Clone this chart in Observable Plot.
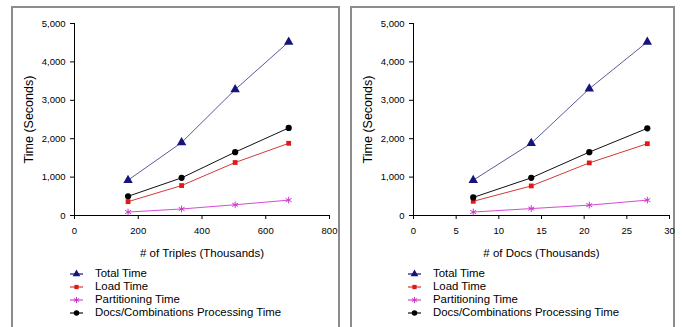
<!DOCTYPE html>
<html>
<head>
<meta charset="utf-8">
<script src="https://cdn.jsdelivr.net/npm/d3@7"></script>
<script src="https://cdn.jsdelivr.net/npm/@observablehq/plot@0.6"></script>
<style>
  html, body { margin: 0; padding: 0; background: #fff; }
  body { width: 683px; height: 327px; overflow: hidden; position: relative; font-family: "Liberation Sans", Arial, sans-serif; }
  .panel { position: absolute; top: 6px; height: 330px; border: 2px solid #8c8c8c; border-bottom: none; background: #fff; }
  .panel svg { position: absolute; left: 0; top: 0; overflow: visible; }
  .legend { position: absolute; font-size: 11.4px; color: #000; line-height: 13px; }
  .legend .row { display: flex; align-items: center; height: 13px; white-space: nowrap; }
  .legend svg { position: static; margin-right: 12px; }
</style>
</head>
<body>
<div id="p1" class="panel" style="left:11px;width:325px;"></div>
<div id="p2" class="panel" style="left:350px;width:321px;"></div>
<script>
// Series names
const seriesNames = ["Total Time", "Load Time", "Partitioning Time", "Docs/Combinations Processing Time"];

// Left chart: x = # of Triples (Thousands)
const triplesX = [168, 336, 504, 672];
const triplesTotal = [920, 1900, 3280, 4520];
const triplesLoad = [360, 780, 1380, 1880];
const triplesPartition = [90, 170, 280, 400];
const triplesDocs = [500, 980, 1650, 2280];

// Right chart: x = # of Docs (Thousands)
const docsX = [7.0, 13.8, 20.6, 27.4];
const docsTotal = [920, 1880, 3300, 4520];
const docsLoad = [370, 770, 1370, 1870];
const docsPartition = [90, 180, 270, 400];
const docsDocs = [470, 980, 1650, 2270];

// Tick values
const yTicks = [0, 1000, 2000, 3000, 4000, 5000];
const triplesTicks = [0, 200, 400, 600, 800];
const docsTicks = [0, 5, 10, 15, 20, 25, 30];

const styles = [
  {line: "#5a5a98", fill: "#14147a", symbol: "triangle", r: 3.5},
  {line: "#d23a3a", fill: "#e01818", symbol: "square", r: 2.7},
  {line: "#d64ad6", fill: "#c838c8", symbol: "asterisk", r: 3.2},
  {line: "#111111", fill: "#000000", symbol: "circle", r: 3.1}
];

function buildRows(xs, seriesValues) {
  const rows = [];
  seriesValues.forEach((vals, si) => {
    vals.forEach((v, i) => rows.push({series: seriesNames[si], si, x: xs[i], y: v}));
  });
  return rows;
}

function makeChart(rows, xDomain, xTicks, xLabel, width, marginLeft, marginRight) {
  const marks = [];
  styles.forEach((s, si) => {
    const d = rows.filter(r => r.si === si);
    marks.push(Plot.line(d, {x: "x", y: "y", stroke: s.line, strokeWidth: 1}));
  });
  marks.push(Plot.ruleY([0], {stroke: "#000", strokeWidth: 1}));
  marks.push(Plot.ruleX([xDomain[0]], {stroke: "#000", strokeWidth: 1}));
  styles.forEach((s, si) => {
    const d = rows.filter(r => r.si === si);
    if (s.symbol === "asterisk") {
      marks.push(Plot.dot(d, {x: "x", y: "y", symbol: "asterisk", r: s.r, stroke: s.fill, strokeWidth: 1, fill: "none"}));
    } else {
      marks.push(Plot.dot(d, {x: "x", y: "y", symbol: s.symbol, r: s.r, fill: s.fill, stroke: "none"}));
    }
  });
  marks.push(Plot.axisY({ticks: yTicks, tickFormat: d3.format(","), tickSize: 4, tickPadding: 5,
    label: "Time (Seconds)", labelAnchor: "center", labelArrow: "none", labelOffset: 50, fontSize: 9.5}));
  marks.push(Plot.axisX({ticks: xTicks, tickFormat: d => String(d), tickSize: 4, tickPadding: 8,
    label: xLabel, labelAnchor: "center", labelArrow: "none", labelOffset: 41, fontSize: 9.5}));
  const chart = Plot.plot({
    width, height: 262,
    marginLeft, marginRight, marginTop: 15, marginBottom: 55,
    style: {fontFamily: "'Liberation Sans', Arial, sans-serif", fontSize: "9.5px", color: "#000", background: "transparent", overflow: "visible"},
    x: {domain: xDomain},
    y: {domain: [0, 5000]},
    marks
  });
  chart.querySelectorAll("g[aria-label='y-axis label'] text").forEach(t => t.setAttribute("font-size", "12.5px"));
  chart.querySelectorAll("g[aria-label='x-axis label'] text").forEach(t => t.setAttribute("font-size", "11.5px"));
  return chart;
}

function symbolPath(s) {
  const map = {triangle: d3.symbolTriangle, square: d3.symbolSquare, circle: d3.symbolCircle, asterisk: d3.symbolAsterisk};
  const size = s.symbol === "triangle" ? 26 : s.symbol === "square" ? 18 : s.symbol === "circle" ? 24 : 26;
  return d3.symbol(map[s.symbol], size)();
}

function makeLegend(left, top) {
  const div = document.createElement("div");
  div.className = "legend";
  div.style.left = left + "px";
  div.style.top = top + "px";
  seriesNames.forEach((name, i) => {
    const s = styles[i];
    const row = document.createElement("div");
    row.className = "row";
    const svg = d3.create("svg").attr("width", 13).attr("height", 10);
    svg.append("line").attr("x1", 0).attr("x2", 13).attr("y1", 5).attr("y2", 5).attr("stroke", i === 0 ? "#14147a" : s.line).attr("stroke-width", 1.2);
    const p = svg.append("path").attr("d", symbolPath(s)).attr("transform", "translate(6.5,5)");
    if (s.symbol === "asterisk") {
      p.attr("fill", "none").attr("stroke", s.fill).attr("stroke-width", 1);
    } else {
      p.attr("fill", s.fill);
    }
    row.appendChild(svg.node());
    const span = document.createElement("span");
    span.textContent = name;
    row.appendChild(span);
    div.appendChild(row);
  });
  document.body.appendChild(div);
}

const rows1 = buildRows(triplesX, [triplesTotal, triplesLoad, triplesPartition, triplesDocs]);
const rows2 = buildRows(docsX, [docsTotal, docsLoad, docsPartition, docsDocs]);

document.getElementById("p1").appendChild(makeChart(rows1, [0, 800], triplesTicks, "# of Triples (Thousands)", 325, 61, 9));
document.getElementById("p2").appendChild(makeChart(rows2, [0, 30], docsTicks, "# of Docs (Thousands)", 321, 61, 4));

makeLegend(70, 267);
makeLegend(408, 267);
</script>
</body>
</html>
